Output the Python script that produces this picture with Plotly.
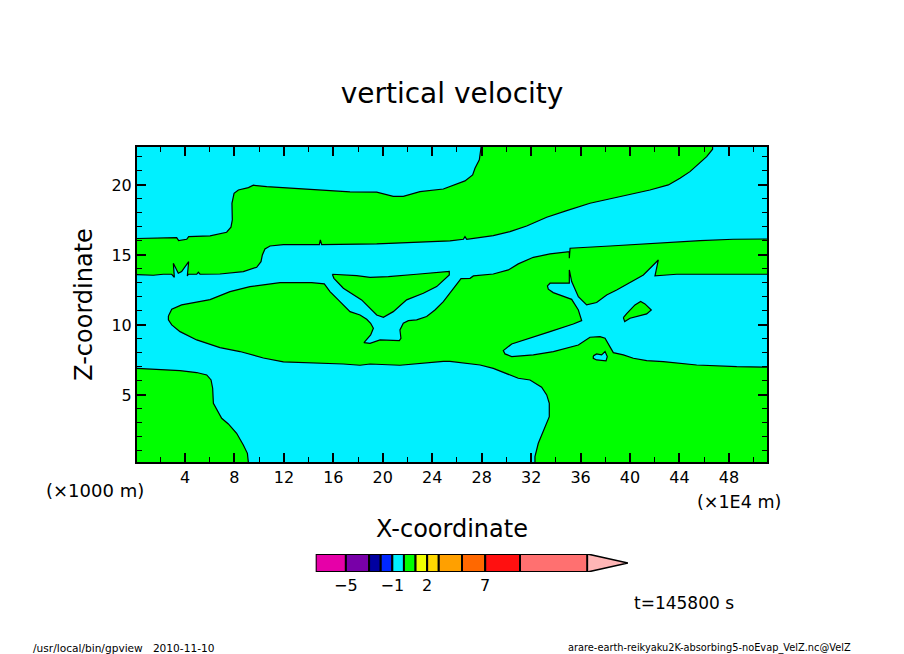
import plotly.graph_objects as go

W = 904
H = 654

# contour regions of vertical velocity, (x [1E4 m], z [1000 m])
upper_band = [(0, 16.17), (1.98, 16.24), (3.33, 16.24), (3.49, 16.02), (4.14, 16.12), (4.30, 16.31), (6.03, 16.36),
              (7.37, 16.62), (7.72, 16.98), (7.83, 17.50), (7.80, 18.69), (7.97, 19.40), (8.32, 19.64), (9.13, 19.81),
              (9.53, 19.98), (10.61, 19.88), (13.58, 19.71), (17.35, 19.50), (19.51, 19.48), (20.85, 19.19),
              (21.66, 19.19), (23.01, 19.52), (24.90, 19.71), (26.25, 20.12), (26.65, 20.29), (27.27, 20.71),
              (27.46, 21.19), (27.81, 21.79), (28.0, 22.74), (28.0, 23), (46.68, 23), (46.68, 22.55), (46.20, 22.02),
              (45.53, 21.50), (44.85, 20.95), (44.04, 20.48), (43.10, 20.0), (41.61, 19.64), (39.73, 19.29),
              (38.11, 18.98), (36.76, 18.69), (34.88, 18.17), (33.26, 17.69), (31.64, 17.07), (30.29, 16.67),
              (28.94, 16.38), (26.79, 16.12), (26.65, 16.31), (26.52, 16.12), (25.44, 16.0), (22.74, 15.88),
              (19.51, 15.79), (15.06, 15.74), (14.95, 16.07), (14.87, 15.74), (11.96, 15.74), (10.88, 15.64),
              (10.47, 15.43), (10.26, 15.0), (10.15, 14.52), (9.80, 14.12), (8.72, 13.81), (6.83, 13.64), (5.22, 13.62),
              (5.08, 13.76), (4.95, 13.62), (4.27, 13.62), (4.19, 13.5), (4.30, 14.52), (3.73, 13.81), (3.46, 13.69),
              (3.06, 14.40), (3.14, 13.40), (2.93, 13.62), (2.25, 13.62), (1.44, 13.55), (0, 13.6), (0, 16.17)]

main_region = [(2.66, 10.64), (2.93, 11.12), (3.73, 11.43), (4.68, 11.60), (6.03, 11.81), (7.64, 12.38), (9.26, 12.74),
               (11.69, 13.02), (14.25, 13.02), (15.27, 12.93), (15.73, 12.38), (16.40, 11.79), (16.81, 11.43),
               (17.35, 10.95), (18.16, 10.71), (18.70, 10.40), (19.02, 10.12), (19.24, 9.76), (19.02, 9.29),
               (18.48, 8.74), (18.97, 8.69), (19.78, 8.93), (21.34, 8.88), (21.47, 9.05), (21.39, 9.64), (21.66, 10.12),
               (22.07, 10.31), (22.74, 10.36), (23.55, 10.60), (24.22, 11.07), (24.90, 11.67), (25.44, 12.3),
               (25.98, 12.86), (26.33, 13.31), (27.06, 13.33), (27.33, 13.5), (28.94, 13.64), (30.16, 13.93),
               (30.96, 14.36), (32.18, 14.83), (33.53, 15.07), (35.09, 15.24), (35.09, 14.76), (35.09, 15.24),
               (35.15, 15.48), (38.38, 15.64), (42.42, 15.88), (45.67, 16.02), (48.35, 16.12), (51.3, 16.14),
               (51.3, 13.62), (43.77, 13.62), (42.69, 13.55), (42.02, 13.5), (42.29, 14.64), (41.08, 13.57),
               (38.92, 12.5), (38.11, 12.14), (37.30, 11.6), (36.49, 11.43), (35.82, 12.02), (35.28, 13.1),
               (35.09, 13.93), (35.09, 12.98), (33.53, 12.98), (33.32, 12.79), (33.39, 12.55), (33.79, 12.31),
               (35.28, 11.83), (35.82, 11.07), (36.09, 10.31), (35.41, 10.07), (33.53, 9.52), (31.23, 8.88),
               (30.43, 8.64), (29.75, 8.17), (29.89, 7.93), (30.43, 7.74), (32.18, 7.86), (33.80, 8.10), (35.82, 8.57),
               (36.76, 9.12), (37.57, 9.17), (37.98, 9.05), (38.65, 8.02), (39.46, 7.86), (40.27, 7.62), (41.35, 7.45),
               (42.69, 7.38), (45.39, 7.14), (48.63, 7.02), (51.3, 6.98), (51.3, 0), (32.31, 0), (32.31, 0.6),
               (32.58, 1.55), (33.26, 2.98), (33.47, 3.45), (33.47, 4.40), (33.26, 5.0), (32.85, 5.55), (31.91, 6.07),
               (30.96, 6.19), (30.03, 6.5), (28.94, 6.90), (27.87, 7.14), (26.52, 7.31), (25.44, 7.40), (24.9, 7.40),
               (23.55, 7.31), (21.39, 7.12), (18.97, 7.21), (18.16, 7.12), (16.81, 7.21), (14.38, 7.26), (11.96, 7.36),
               (10.34, 7.64), (8.45, 8.10), (6.83, 8.38), (4.95, 8.93), (3.60, 9.52), (2.93, 10.0), (2.66, 10.36),
               (2.66, 10.64)]

center_island = [(15.92, 13.62), (17.89, 13.52), (18.97, 13.40), (20.45, 13.45), (22.74, 13.62), (25.38, 13.83),
                 (25.38, 13.57), (24.36, 12.74), (23.28, 12.26), (21.93, 11.79), (20.85, 10.95), (20.05, 10.55),
                 (19.51, 10.71), (18.29, 11.79), (16.81, 12.62), (16.4, 12.98), (16.05, 13.33), (15.92, 13.62)]

lower_left = [(0, 6.90), (1.98, 6.83), (3.60, 6.74), (4.95, 6.60), (5.76, 6.43), (6.11, 6.07), (6.24, 5.48), (6.30, 4.40),
              (6.57, 3.93), (6.97, 3.33), (7.51, 2.93), (8.18, 2.26), (8.72, 1.43), (9.05, 0.83), (9.15, 0), (0, 0),
              (0, 6.90)]

small_island = [(39.46, 10.52), (39.73, 10.81), (40.40, 11.43), (40.86, 11.67), (41.21, 11.5), (41.72, 11.07),
                (41.35, 10.79), (40.0, 10.48), (39.57, 10.24), (39.46, 10.52)]

small_hole = [(37.03, 7.79), (37.30, 7.93), (37.70, 7.86), (37.98, 8.10), (38.16, 7.74), (38.06, 7.43), (37.30, 7.50),
              (37.03, 7.62), (37.03, 7.79)]

x_ticks = [4, 8, 12, 16, 20, 24, 28, 32, 36, 40, 44, 48]
z_ticks = [5, 10, 15, 20]

# colour bar
level_edges = [-7.6, -5, -3, -2, -1, 0, 1, 2, 3, 5, 7, 10, 15.8]
level_colors = ["#e600a8", "#7800a8", "#0000a0", "#0028ff", "#00f0ff", "#00ff00", "#f0ff00", "#ffd800", "#ffa000",
                "#ff6800", "#ff1010", "#ff7070"]
level_tip = 19.3
level_ticks = [-5, -1, 2, 7]
level_labels = ["\u22125", "\u22121", "2", "7"]

CYAN = "#00f0ff"
GREEN = "#00ff00"
FONT = "DejaVu Sans"


def region(points, color):
    return go.Scatter(
        x=[p[0] for p in points],
        y=[p[1] for p in points],
        mode="lines",
        fill="toself",
        fillcolor=color,
        line=dict(color="black", width=1.2),
        hoverinfo="skip",
        showlegend=False,
    )


fig = go.Figure()
for pts in [upper_band, main_region, center_island, lower_left, small_island]:
    fig.add_trace(region(pts, GREEN))
fig.add_trace(region(small_hole, CYAN))

widths = [b - a for a, b in zip(level_edges[:-1], level_edges[1:])]
fig.add_trace(go.Bar(
    x=widths,
    y=[0] * len(widths),
    base=level_edges[:-1],
    orientation="h",
    width=1,
    marker=dict(color=level_colors, line=dict(color="black", width=2)),
    xaxis="x2",
    yaxis="y2",
    hoverinfo="skip",
    showlegend=False,
))
fig.add_trace(go.Scatter(
    x=[level_edges[-1], level_tip, level_edges[-1], level_edges[-1]],
    y=[-0.5, 0, 0.5, -0.5],
    mode="lines",
    fill="toself",
    fillcolor="#ffb6b6",
    line=dict(color="black", width=1.6),
    xaxis="x2",
    yaxis="y2",
    hoverinfo="skip",
    showlegend=False,
))

fig.update_layout(
    width=W,
    height=H,
    margin=dict(l=0, r=0, t=0, b=0),
    paper_bgcolor="white",
    plot_bgcolor="white",
    font=dict(family=FONT, color="black", size=16),
    title=dict(text="vertical velocity", x=0.5, xanchor="center", y=1 - 93 / H, yanchor="middle",
               font=dict(size=28, family=FONT)),
    barmode="overlay",
    xaxis=dict(
        domain=[137 / W, 767 / W],
        range=[0.12, 51.08],
        tickvals=x_ticks,
        ticks="inside",
        ticklen=9,
        tickwidth=2,
        tickcolor="black",
        minor=dict(dtick=2, ticks="inside", ticklen=5, tickwidth=1, tickcolor="black"),
        showline=True,
        linecolor="black",
        linewidth=2,
        mirror="ticks",
        showgrid=False,
        zeroline=False,
        title=dict(text="X-coordinate", standoff=34, font=dict(size=24)),
    ),
    yaxis=dict(
        domain=[1 - 462 / H, 1 - 147 / H],
        range=[0.21, 22.71],
        tickvals=z_ticks,
        ticks="inside",
        ticklen=9,
        tickwidth=2,
        tickcolor="black",
        minor=dict(dtick=1, ticks="inside", ticklen=5, tickwidth=1, tickcolor="black"),
        showline=True,
        linecolor="black",
        linewidth=2,
        mirror="ticks",
        showgrid=False,
        zeroline=False,
        title=dict(text="Z-coordinate", standoff=12, font=dict(size=24)),
    ),
    xaxis2=dict(
        domain=[315.7 / W, 628 / W],
        range=[-7.6, level_tip],
        anchor="y2",
        tickvals=level_ticks,
        ticktext=level_labels,
        ticks="",
        ticklabelstandoff=2,
        showgrid=False,
        zeroline=False,
        showline=False,
    ),
    yaxis2=dict(
        domain=[1 - 572 / H, 1 - 554 / H],
        range=[-0.5, 0.5],
        anchor="x2",
        showticklabels=False,
        ticks="",
        showgrid=False,
        zeroline=False,
        showline=False,
    ),
)

# cyan only behind the main panel, the colour bar axes stay white
fig.add_shape(type="rect", xref="x domain", yref="y domain", x0=0, x1=1, y0=0, y1=1,
              fillcolor=CYAN, line_width=0, layer="below")

notes = [
    ("(\u00d71000 m)", 95, 490, 18),
    ("(\u00d71E4 m)", 739, 502, 17.5),
    ("t=145800 s", 684, 603, 17),
    ("/usr/local/bin/gpview   2010-11-10", 124, 648, 10.6),
    ("arare-earth-reikyaku2K-absorbing5-noEvap_VelZ.nc@VelZ", 709, 648, 9.8),
]
for text, px, py, size in notes:
    fig.add_annotation(text=text, x=px / W, y=1 - py / H, xref="paper", yref="paper", showarrow=False,
                       xanchor="center", yanchor="middle", font=dict(size=size))

fig.write_html("out.html", config={"displayModeBar": False}, post_script="document.body.style.margin = '0';")
